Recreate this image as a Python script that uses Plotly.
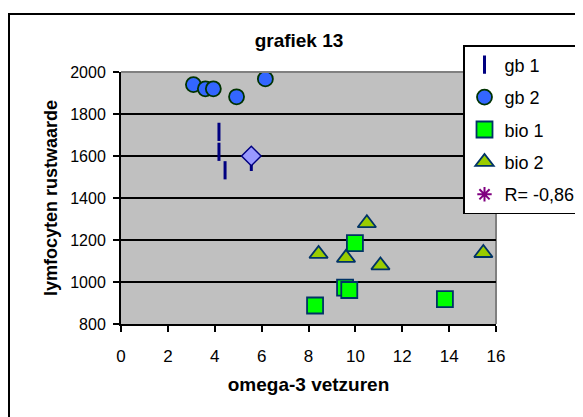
import plotly.graph_objects as go

# ---- data ----
gb1_x = [4.18, 4.18, 4.44, 5.56]
gb1_y = [1715, 1620, 1532, 1572]

gb2_x = [3.09, 3.60, 3.94, 4.93, 6.16]
gb2_y = [1940, 1920, 1920, 1882, 1967]

bio1_x = [8.28, 9.56, 9.74, 9.98, 13.82]
bio1_y = [888, 973, 962, 1185, 918]

bio2_x = [8.43, 9.60, 10.49, 11.07, 15.46]
bio2_y = [1134, 1115, 1280, 1079, 1138]

mean_x = [5.56]
mean_y = [1600]

x_ticks = [0, 2, 4, 6, 8, 10, 12, 14, 16]
y_ticks = [800, 1000, 1200, 1400, 1600, 1800, 2000]

# page body has an 8px default margin, so the figure is drawn 8px in from the corner
OFF = 8
W, H = 583 - OFF, 417 - OFF
L, R, T, B = 121 - OFF, 496 - OFF, 72 - OFF, 324 - OFF

FONT = "Liberation Sans, Arial, sans-serif"

fig = go.Figure()

fig.add_trace(go.Scatter(
    x=gb1_x, y=gb1_y, mode="markers", name="gb 1", legendgroup="a",
    marker=dict(symbol="line-ns-open", size=13, line=dict(color="#000080", width=3), color="#000080"),
))
fig.add_trace(go.Scatter(
    x=gb2_x, y=gb2_y, mode="markers", name="gb 2", legendgroup="b",
    marker=dict(symbol="circle", size=15, color="#3366FF", line=dict(color="#003300", width=1.8)),
))
fig.add_trace(go.Scatter(
    x=bio1_x, y=bio1_y, mode="markers", name="bio 1", legendgroup="c",
    marker=dict(symbol="square", size=16, color="#00FF00", line=dict(color="#003366", width=1.8)),
))
fig.add_trace(go.Scatter(
    x=bio2_x, y=bio2_y, mode="markers", name="bio 2", legendgroup="d",
    marker=dict(symbol="triangle-up", size=16, color="#99CC00", line=dict(color="#003366", width=1.8)),
))
fig.add_trace(go.Scatter(
    x=[None], y=[None], mode="markers", name="R= -0,86", legendgroup="e",
    marker=dict(symbol="asterisk-open", size=12, color="#800080", line=dict(color="#800080", width=2)),
))
fig.add_trace(go.Scatter(
    x=mean_x, y=mean_y, mode="markers", showlegend=False,
    marker=dict(symbol="diamond", size=15, color="#9999FF", line=dict(color="#000080", width=1.5)),
))

pw, ph = R - L, B - T

def px(xs):
    """screen x (reference pixels) -> paper x"""
    return (xs - OFF - L) / pw

def py(ys):
    """screen y (reference pixels) -> paper y"""
    return (B - (ys - OFF)) / ph

fig.update_layout(
    width=W, height=H,
    margin=dict(l=L, r=W - R, t=T, b=H - B, autoexpand=False),
    paper_bgcolor="white",
    plot_bgcolor="#C0C0C0",
    font=dict(family=FONT, color="black", size=16),
    title=dict(text="<b>grafiek 13</b>", x=(299 - OFF) / W, xref="container", xanchor="center",
               y=1 - (40 - OFF) / H, yref="container", yanchor="middle",
               font=dict(size=19, family=FONT, color="black")),
    showlegend=True,
    legend=dict(
        x=px(463), y=py(45), xanchor="left", yanchor="top",
        bgcolor="white", bordercolor="black", borderwidth=1.5,
        font=dict(size=18, family=FONT, color="black"),
        traceorder="grouped", tracegroupgap=6, itemwidth=30,
    ),
    xaxis=dict(
        range=[0, 16], tickvals=x_ticks, ticktext=[str(v) for v in x_ticks],
        showgrid=False, zeroline=False, showline=True, linecolor="black", linewidth=2,
        ticks="outside", ticklen=6, tickwidth=2, tickcolor="black",
        ticklabelstandoff=10, automargin=False,
        tickfont=dict(size=17),
        title=dict(text="<b>omega-3 vetzuren</b>", font=dict(size=19, family=FONT), standoff=12),
        fixedrange=True,
    ),
    yaxis=dict(
        range=[800, 2000], tickvals=y_ticks, ticktext=[str(v) for v in y_ticks],
        showgrid=True, gridcolor="black", gridwidth=1.5, zeroline=False,
        showline=True, linecolor="black", linewidth=2,
        ticks="outside", ticklen=6, tickwidth=2, tickcolor="black",
        ticklabelstandoff=4, automargin=False,
        tickfont=dict(size=16),
        title=dict(text="<b>lymfocyten rustwaarde</b>", font=dict(size=18, family=FONT), standoff=8),
        fixedrange=True,
    ),
    shapes=[
        # outer chart border
        dict(type="rect", xref="paper", yref="paper",
             x0=px(9), x1=px(583 + 20), y0=py(14), y1=py(417 + 20),
             line=dict(color="black", width=2), fillcolor="rgba(0,0,0,0)", layer="below"),
        # plot-area border (top and right, grey)
        dict(type="line", xref="paper", yref="paper", x0=0, x1=1, y0=1, y1=1,
             line=dict(color="#808080", width=2), layer="above"),
        dict(type="line", xref="paper", yref="paper", x0=1, x1=1, y0=0, y1=1,
             line=dict(color="#808080", width=2), layer="below"),
    ],
)

fig.write_html("out.html")
